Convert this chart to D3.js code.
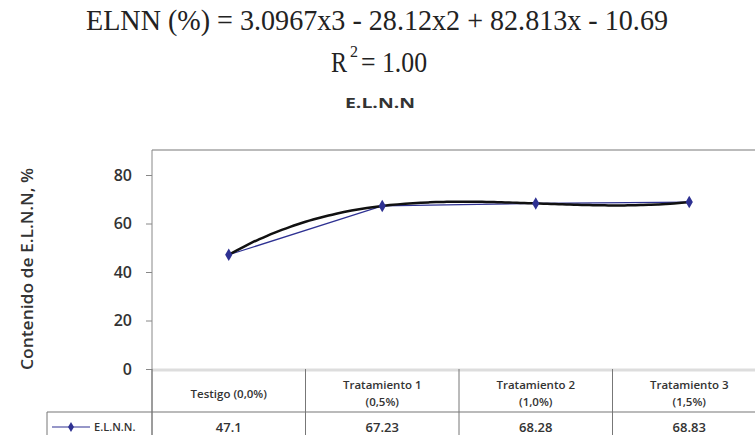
<!DOCTYPE html>
<html><head><meta charset="utf-8">
<script src="https://cdn.jsdelivr.net/npm/d3@7"></script>
<style>body{margin:0;background:#fff}svg{display:block}</style>
</head><body>
<svg id="c" width="755" height="435"></svg>
<script>
const categories = [["Testigo (0,0%)"], ["Tratamiento 1", "(0,5%)"], ["Tratamiento 2", "(1,0%)"], ["Tratamiento 3", "(1,5%)"]];
const valueLabels = ["47.1", "67.23", "68.28", "68.83"];
const values = [47.1, 67.23, 68.28, 68.83];
const yTicks = [0, 20, 40, 60, 80];
const trendCoefficients = [3.0967, -28.12, 82.813, -10.69]; // x^3, x^2, x, const (from chart's equation)
const seriesName = "E.L.N.N.";
const chartTitle = "E.L.N.N";
const yLabel = "Contenido de E.L.N.N, %";
const equationText = "ELNN (%) = 3.0967x3 - 28.12x2 + 82.813x - 10.69";
const r2Value = "= 1.00";

const svg = d3.select("#c");
const pLeft = 152, pRight = 766, pTop = 150, pBottom = 369;
const idx = d3.range(categories.length);
const x = d3.scaleBand().domain(idx).range([pLeft, pRight]);
const y = d3.scaleLinear().domain([0, 80]).range([pBottom, 175]);
const cx = i => x(i) + x.bandwidth() / 2;

// titles
const serif = s => s.attr("font-family", "Liberation Serif").attr("fill", "#222").attr("lengthAdjust", "spacingAndGlyphs");
svg.append("text").attr("x", 86).attr("y", 30).call(serif).attr("font-size", 30)
  .attr("textLength", 582).text(equationText);
svg.append("text").attr("x", 331).attr("y", 72).call(serif).attr("font-size", 30).attr("textLength", 16).text("R");
svg.append("text").attr("x", 350).attr("y", 57).call(serif).attr("font-size", 17).attr("textLength", 8).text("2");
svg.append("text").attr("x", 361).attr("y", 72).call(serif).attr("font-size", 30).attr("textLength", 66).text(r2Value);
svg.append("text").attr("x", 380).attr("y", 108).attr("text-anchor", "middle").attr("font-family", "Open Sans")
  .attr("font-weight", 700).attr("font-size", 15).attr("fill", "#333").attr("textLength", 70).attr("lengthAdjust", "spacingAndGlyphs").text(chartTitle);

// frame
svg.append("line").attr("x1", pLeft).attr("x2", 755).attr("y1", pTop).attr("y2", pTop).attr("stroke", "#bbb").attr("stroke-width", 2);
svg.append("line").attr("x1", pLeft).attr("x2", 755).attr("y1", pBottom + 1).attr("y2", pBottom + 1).attr("stroke", "#ddd").attr("stroke-width", 3);
svg.append("line").attr("x1", pLeft).attr("x2", pLeft).attr("y1", pTop).attr("y2", 435).attr("stroke", "#888").attr("stroke-width", 1);

// y axis
const ya = d3.axisLeft(y).tickValues(yTicks).tickSize(6).tickPadding(14);
const yg = svg.append("g").attr("transform", `translate(${pLeft},0)`).call(ya);
yg.select(".domain").remove();
yg.selectAll(".tick line").attr("stroke", "#888");
yg.selectAll(".tick text").attr("font-family", "Open Sans").attr("font-weight", 600).attr("font-size", 16).attr("fill", "#333");
svg.append("text").attr("transform", "translate(33,269) rotate(-90)").attr("text-anchor", "middle")
  .attr("font-family", "Open Sans").attr("font-weight", 600).attr("font-size", 16).attr("fill", "#333")
  .attr("textLength", 202).attr("lengthAdjust", "spacingAndGlyphs").text(yLabel);

// table
const rowSplit = 412;
idx.concat([categories.length]).forEach(i => {
  const xx = i < categories.length ? x(i) : pRight;
  svg.append("line").attr("x1", xx).attr("x2", xx).attr("y1", pBottom).attr("y2", 435).attr("stroke", "#777");
});
svg.append("line").attr("x1", 47).attr("x2", 755).attr("y1", rowSplit).attr("y2", rowSplit).attr("stroke", "#777").attr("stroke-width", 1.2);
svg.append("line").attr("x1", 47).attr("x2", 47).attr("y1", rowSplit).attr("y2", 435).attr("stroke", "#777");
const tf = s => s.attr("font-family", "Open Sans").attr("font-weight", 600).attr("font-size", 11.5).attr("fill", "#333").attr("text-anchor", "middle");
categories.forEach((lines, i) => {
  const t = svg.append("text").attr("x", cx(i)).call(tf);
  if (lines.length === 1) t.attr("y", 398).text(lines[0]);
  else lines.forEach((l, k) => t.append("tspan").attr("x", cx(i)).attr("y", 389 + k * 17).text(l));
});
valueLabels.forEach((v, i) => svg.append("text").attr("x", cx(i)).attr("y", 432).call(tf).attr("font-size", 13).text(v));
// legend
svg.append("line").attr("x1", 52).attr("x2", 90).attr("y1", 427).attr("y2", 427).attr("stroke", "#2e3192").attr("stroke-width", 1.2);
svg.append("path").attr("d", d3.symbol(d3.symbolDiamond, 30)()).attr("transform", "translate(71,427)").attr("fill", "#2e3192");
svg.append("text").attr("x", 94).attr("y", 431).attr("font-family", "Open Sans").attr("font-weight", 600).attr("font-size", 11).attr("fill", "#333").text(seriesName);

// series line
const pts = values.map((v, i) => [cx(i), y(v)]);
svg.append("path").attr("d", d3.line()(pts)).attr("fill", "none").attr("stroke", "#2e3192").attr("stroke-width", 1.2);

// trendline (polynomial from chart equation, x = 1..4)
const poly = t => trendCoefficients.reduce((a, c) => a * t + c, 0);
const xt = d3.scaleLinear().domain([1, values.length]).range([cx(0), cx(values.length - 1)]);
const tt = d3.range(1, values.length + 0.001, 0.05);
svg.append("path").attr("d", d3.line().x(t => xt(t)).y(t => y(poly(t))).curve(d3.curveMonotoneX)(tt))
  .attr("fill", "none").attr("stroke", "#111").attr("stroke-width", 2.5);

svg.selectAll(".pt").data(pts).join("path").attr("class", "pt")
  .attr("d", d3.symbol(d3.symbolDiamond, 45)()).attr("transform", d => `translate(${d[0]},${d[1]})`).attr("fill", "#2e3192");
</script>
</body></html>
